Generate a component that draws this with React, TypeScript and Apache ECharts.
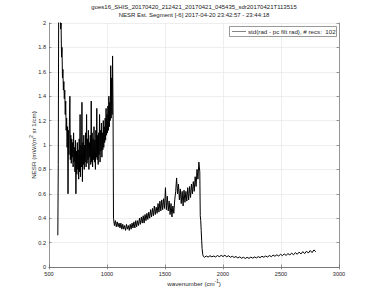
import React, { useEffect, useRef } from "react";
import * as echarts from "echarts";

const titleLines = [
  "goes16_SHIS_20170420_212421_20170421_045435_sdr20170421T113515",
  "NESR Est. Segment [-6] 2017-04-20 23:42:57 - 23:44:18",
];
const legendLabel = "std(rad - pc filt rad), # recs:  102";

const xTicks = [500, 1000, 1500, 2000, 2500, 3000];
const yTicks = [0, 0.2, 0.4, 0.6, 0.8, 1, 1.2, 1.4, 1.6, 1.8, 2];

// Band 1 (longwave): regular wavenumber grid
const band1Start = 576;
const band1Step = 4;
const band1Values = [
  0.26, 0.84, 2.4, 2.6, 2.3, 2.15, 1.95, 2.0, 1.72, 1.8,
  1.55, 1.62, 1.45, 1.52, 1.38, 1.45, 1.25, 1.36, 1.12, 1.22,
  0.98, 1.15, 0.6, 1.12, 0.92, 1.18, 1.4, 0.88, 1.08, 0.85,
  1.05, 0.9, 1.02, 0.82, 1.1, 0.86, 0.98, 0.78, 1.04, 0.6,
  0.95, 0.76, 1.02, 0.8, 0.96, 0.72, 1.05, 0.78, 1.25, 0.74,
  1.0, 0.82, 1.35, 0.7, 1.02, 0.84, 1.08, 0.8, 1.0, 0.86,
  1.1, 0.82, 1.25, 0.85, 1.05, 0.88, 1.12, 0.8, 1.02, 0.9,
  1.08, 0.84, 1.36, 0.86, 1.1, 0.82, 1.05, 0.88, 1.15, 0.86,
  1.04, 0.8, 1.12, 0.9, 1.3, 0.88, 1.08, 0.84, 1.1, 0.92,
  1.25, 0.86, 1.12, 0.95, 1.18, 0.9, 1.1, 0.96, 1.2, 0.98,
  1.15, 1.02, 1.22, 1.04, 1.3, 1.08, 1.25, 1.1, 1.32, 1.12,
  1.4, 1.15, 1.35, 1.2, 1.65, 1.22, 1.55, 1.25, 1.73, 1.3,
];

// Band 2 (midwave)
const band2Start = 1056;
const band2Step = 8;
const band2Values = [
  0.4, 0.34, 0.38, 0.33, 0.37, 0.33, 0.36, 0.32, 0.36, 0.31,
  0.35, 0.31, 0.34, 0.3, 0.35, 0.31, 0.34, 0.3, 0.35, 0.31,
  0.36, 0.32, 0.37, 0.32, 0.38, 0.33, 0.38, 0.34, 0.4, 0.35,
  0.41, 0.36, 0.42, 0.36, 0.43, 0.38, 0.44, 0.39, 0.45, 0.4,
  0.47, 0.41, 0.48, 0.42, 0.5, 0.43, 0.49, 0.44, 0.52, 0.45,
  0.54, 0.46, 0.55, 0.47, 0.56, 0.48, 0.65, 0.47, 0.58, 0.46,
  0.54, 0.43, 0.52, 0.41, 0.5, 0.44, 0.55, 0.62, 0.73, 0.6,
  0.68, 0.55, 0.64, 0.52, 0.62, 0.5, 0.63, 0.53, 0.62, 0.54,
  0.65, 0.55, 0.66, 0.57, 0.68, 0.6, 0.7, 0.62, 0.74, 0.66,
  0.8, 0.72, 0.86, 0.78,
];

// Band 3 roll-off edge
const rolloffWavenumbers = [1804, 1808, 1812, 1816, 1820, 1826, 1832];
const rolloffValues = [0.42, 0.38, 0.3, 0.22, 0.15, 0.1, 0.085];

// Band 3 (shortwave)
const band3Start = 1840;
const band3Step = 16;
const band3Values = [
  0.08, 0.09, 0.082, 0.092, 0.084, 0.09, 0.082, 0.094, 0.085, 0.095,
  0.086, 0.096, 0.084, 0.092, 0.08, 0.088, 0.078, 0.086, 0.074, 0.083,
  0.072, 0.08, 0.07, 0.079, 0.071, 0.081, 0.073, 0.082, 0.075, 0.085,
  0.077, 0.088, 0.08, 0.09, 0.082, 0.094, 0.085, 0.097, 0.088, 0.1,
  0.09, 0.104, 0.093, 0.107, 0.095, 0.11, 0.098, 0.114, 0.1, 0.118,
  0.104, 0.122, 0.107, 0.126, 0.11, 0.13, 0.114, 0.135, 0.118, 0.14,
  0.125,
];

function buildData(): [number, number][] {
  const d: [number, number][] = [];
  band1Values.forEach((v, i) => d.push([band1Start + i * band1Step, v]));
  band2Values.forEach((v, i) => d.push([band2Start + i * band2Step, v]));
  rolloffValues.forEach((v, i) => d.push([rolloffWavenumbers[i], v]));
  band3Values.forEach((v, i) => d.push([band3Start + i * band3Step, v]));
  return d;
}

const FONT = "'Liberation Sans', Arial, Helvetica, sans-serif";
const AXIS_COLOR = "#6e6e6e";
const LABEL_COLOR = "#262626";

export default function App() {
  const ref = useRef<HTMLDivElement>(null);
  useEffect(() => {
    if (!ref.current) return;
    const chart = echarts.init(ref.current, undefined, { renderer: "svg" });
    const gridL = 49, gridR = 36, gridT = 23, gridB = 34;
    const commonX = {
      type: "value" as const,
      min: xTicks[0],
      max: xTicks[xTicks.length - 1],
      interval: 500,
    };
    const commonY = {
      type: "value" as const,
      min: yTicks[0],
      max: yTicks[yTicks.length - 1],
      interval: 0.2,
    };
    const supStyle = { fontSize: 4.5, verticalAlign: "top", padding: [0, 0, 3, 0], fontFamily: FONT, color: LABEL_COLOR };
    chart.setOption({
      animation: false,
      backgroundColor: "#ffffff",
      textStyle: { fontFamily: FONT },
      grid: { left: gridL, right: gridR, top: gridT, bottom: gridB, containLabel: false },
      graphic: [
        ...titleLines.map((t, i) => ({
          type: "text",
          x: 194,
          y: 6.5 + i * 8.5,
          style: {
            text: t,
            fontSize: 6,
            fontFamily: FONT,
            fill: "#1a1a1a",
            textAlign: "center",
            textVerticalAlign: "middle",
          },
        })),
        {
          type: "rect",
          z: 100,
          shape: { x: 229.5, y: 26.5, width: 107, height: 10 },
          style: { fill: "#ffffff", stroke: "#555555", lineWidth: 0.6 },
        },
        {
          type: "line",
          z: 101,
          shape: { x1: 232, y1: 31.5, x2: 246, y2: 31.5 },
          style: { stroke: "#333333", lineWidth: 0.6 },
        },
        {
          type: "text",
          z: 101,
          x: 248,
          y: 31.5,
          style: {
            text: legendLabel,
            fontSize: 6.2,
            fontFamily: FONT,
            fill: LABEL_COLOR,
            textAlign: "left",
            textVerticalAlign: "middle",
          },
        },
      ],
      xAxis: [
        {
          ...commonX,
          position: "bottom",
          name: "wavenumber (cm{sup|-1})",
          nameLocation: "middle",
          nameGap: 12,
          nameMoveOverlap: false,
          nameTextStyle: {
            fontSize: 6.2,
            fontFamily: FONT,
            color: LABEL_COLOR,
            rich: { sup: supStyle },
          },
          axisLine: { show: true, lineStyle: { color: AXIS_COLOR, width: 0.7 } },
          axisTick: { show: true, inside: true, length: 2.5, lineStyle: { color: AXIS_COLOR, width: 0.7 } },
          axisLabel: { show: true, fontSize: 5.6, color: LABEL_COLOR, margin: 4, fontFamily: FONT, formatter: (v: number) => String(v) },
          splitLine: { show: true, lineStyle: { color: "#e6e6e6", width: 0.7 } },
        },
        {
          ...commonX,
          position: "top",
          axisLine: { show: true, lineStyle: { color: AXIS_COLOR, width: 0.7 } },
          axisTick: { show: true, inside: true, length: 2.5, lineStyle: { color: AXIS_COLOR, width: 0.7 } },
          axisLabel: { show: false },
          splitLine: { show: false },
        },
      ],
      yAxis: [
        {
          ...commonY,
          position: "left",
          name: "NESR (mW/(m{sup|2} sr 1/cm)",
          nameLocation: "middle",
          nameGap: 12,
          nameMoveOverlap: false,
          nameTextStyle: {
            fontSize: 6.2,
            fontFamily: FONT,
            color: LABEL_COLOR,
            rich: { sup: supStyle },
          },
          axisLine: { show: true, lineStyle: { color: AXIS_COLOR, width: 0.7 } },
          axisTick: { show: true, inside: true, length: 2.5, lineStyle: { color: AXIS_COLOR, width: 0.7 } },
          axisLabel: { show: true, fontSize: 5.6, color: LABEL_COLOR, margin: 3, fontFamily: FONT, formatter: (v: number) => String(v) },
          splitLine: { show: true, lineStyle: { color: "#e6e6e6", width: 0.7 } },
        },
        {
          ...commonY,
          position: "right",
          axisLine: { show: true, lineStyle: { color: AXIS_COLOR, width: 0.7 } },
          axisTick: { show: true, inside: true, length: 2.5, lineStyle: { color: AXIS_COLOR, width: 0.7 } },
          axisLabel: { show: false },
          splitLine: { show: false },
        },
      ],
      series: [
        {
          name: legendLabel,
          type: "line",
          xAxisIndex: 0,
          yAxisIndex: 0,
          data: buildData(),
          symbol: "none",
          showSymbol: false,
          clip: true,
          lineStyle: { color: "#000000", width: 1 },
          itemStyle: { color: "#000000" },
        },
      ],
    });
    return () => chart.dispose();
  }, []);
  return (
    <div
      ref={ref}
      style={{ position: "fixed", left: 0, top: 0, width: 375, height: 301, background: "#fff" }}
    />
  );
}
